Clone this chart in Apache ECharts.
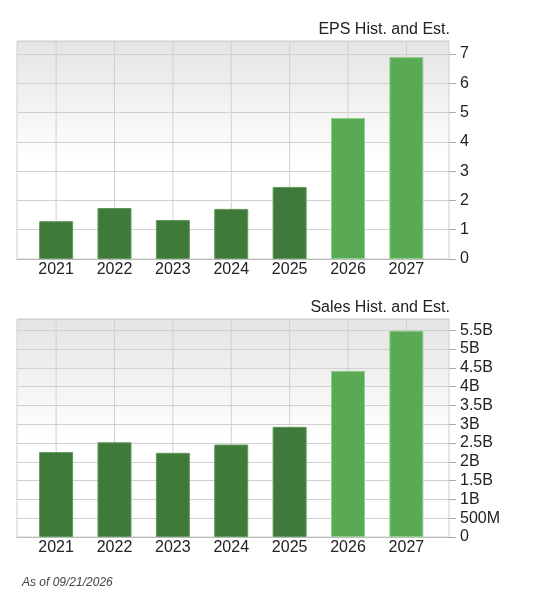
<!DOCTYPE html>
<html><head><meta charset="utf-8">
<script src="https://cdn.jsdelivr.net/npm/echarts@6/dist/echarts.min.js"></script>
<style>html,body{margin:0;padding:0;background:#fff}#c{width:537px;height:608px}</style>
</head><body><div id="c"></div>
<script>
const years = ['2021','2022','2023','2024','2025','2026','2027'];
const isEstimate = [false,false,false,false,false,true,true];
const epsValues = [1.29, 1.74, 1.33, 1.71, 2.46, 4.81, 6.89];
const salesValuesB = [2.26, 2.52, 2.24, 2.46, 2.93, 4.42, 5.49];
const yearIdx = [0,1,2,3,4,5,6];

const dark = '#3f7a3a', light = '#5aaa55';
const FONT = 'Liberation Sans, Arial';
const bg = {type:'linear',x:0,y:0,x2:0,y2:1,colorStops:[{offset:0,color:'#e4e4e4'},{offset:0.55,color:'#ffffff'},{offset:1,color:'#ffffff'}]};
function barData(vals){return vals.map((v,i)=>({value:[i,v],itemStyle:{color:isEstimate[i]?light:dark,borderColor:isEstimate[i]?'#8fcf8a':'#5f9a5a',borderWidth:1}}));}
function xAx(gi){return {type:'value',gridIndex:gi,min:-0.67,max:6.73,splitLine:{show:false},axisTick:{show:false},
  axisLine:{show:true,onZero:false,lineStyle:{color:'#bbb'}},
  axisLabel:{customValues:yearIdx,formatter:v=>years[Math.round(v)],color:'#222',fontSize:16,margin:3,fontFamily:FONT}};}
function yAx(gi,max,interval,fmt){return {type:'value',gridIndex:gi,position:'right',min:0,max:max,interval:interval,
  splitLine:{lineStyle:{color:'#d0d0d0'}},axisLine:{show:false,onZero:false},axisTick:{show:true,length:7,lineStyle:{color:'#aaa'}},
  axisLabel:{showMaxLabel:false,color:'#222',fontSize:16,margin:11,fontFamily:FONT,formatter:fmt}};}
function vlines(gi){return {type:'custom',xAxisIndex:gi,yAxisIndex:gi,data:yearIdx.map(x=>[x,0]),silent:true,z:1,
  renderItem:(params,api)=>{const p=api.coord([api.value(0),0]);const cs=params.coordSys;
    return {type:'line',shape:{x1:p[0],y1:cs.y,x2:p[0],y2:cs.y+cs.height},style:{stroke:'#d0d0d0',lineWidth:1}};}};}
const salesFmt = v => v===0?'0':(v<1?Math.round(v*1000)+'M':v+'B');
const chart = echarts.init(document.getElementById('c'));
chart.setOption({
  animation:false,
  title:[
    {text:'EPS Hist. and Est.',right:82,top:17,textStyle:{fontSize:16,fontWeight:'normal',color:'#222',fontFamily:FONT}},
    {text:'Sales Hist. and Est.',right:82,top:295,textStyle:{fontSize:16,fontWeight:'normal',color:'#222',fontFamily:FONT}},
    {text:'As of 09/21/2026',left:17,top:572,textStyle:{fontSize:12,fontWeight:'normal',fontStyle:'italic',color:'#444',fontFamily:FONT}}
  ],
  grid:[
    {left:17,top:41,width:432,height:218,show:true,backgroundColor:bg,borderColor:'#cfcfcf'},
    {left:17,top:319,width:432,height:218,show:true,backgroundColor:bg,borderColor:'#cfcfcf'}
  ],
  xAxis:[xAx(0),xAx(1)],
  yAxis:[yAx(0,7.44,1,v=>String(v)),yAx(1,5.8,0.5,salesFmt)],
  series:[
    vlines(0),vlines(1),
    {type:'bar',xAxisIndex:0,yAxisIndex:0,barWidth:34,data:barData(epsValues),z:3},
    {type:'bar',xAxisIndex:1,yAxisIndex:1,barWidth:34,data:barData(salesValuesB),z:3}
  ]
});
</script></body></html>
